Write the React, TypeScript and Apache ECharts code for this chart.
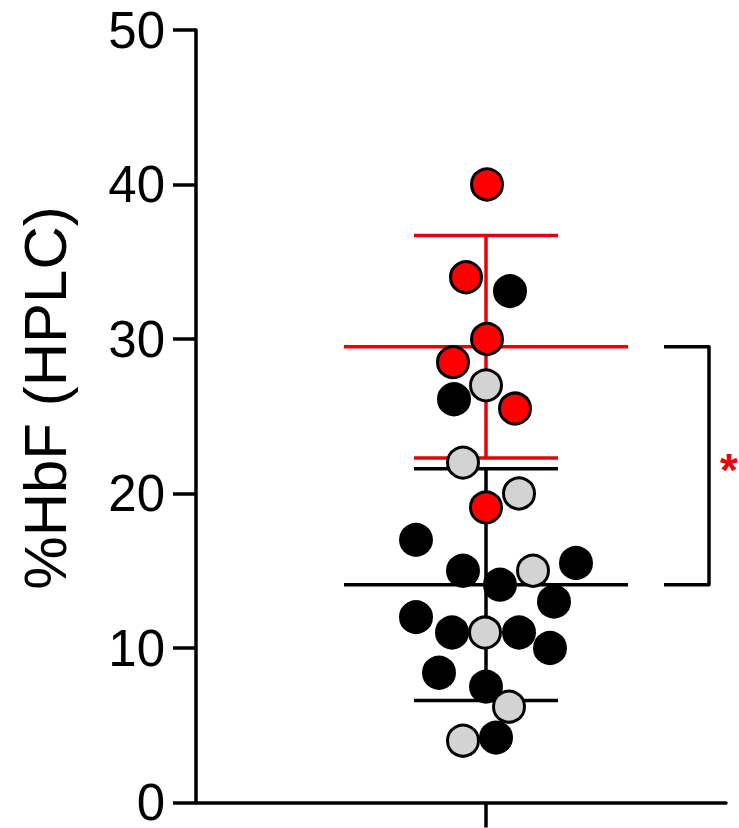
import React, { useEffect, useRef } from "react";
import * as echarts from "echarts";

// ---- data ----
const redX = [1, -20, 1, -33, 29, 0];
const redY = [40.0, 34.0, 30.0, 28.5, 25.5, 19.1];

const grayX = [0, -23, 33, 47, -1, 23, -23];
const grayY = [27.0, 22.0, 20.0, 15.0, 11.0, 6.2, 4.0];

const blackX = [24, -32, -70, -23, 90, 14, 68, -70, -34, 33, 64, -47, 0, 10];
const blackY = [33.1, 26.1, 17.0, 15.0, 15.5, 14.1, 13.0, 12.0, 11.0, 11.0, 10.0, 8.4, 7.5, 4.2];

// group summaries: [center, mean, sd]
const redSummary = [0, 29.5, 7.2];
const blackSummary = [0, 14.1, 7.5];

const yTitle = "%HbF (HPLC)";
const significance = "*";

const FONT = "'Liberation Sans', Arial, sans-serif";
const LW = 3.5;

const zip = (xs: number[], ys: number[]) => xs.map((x, i) => [x, ys[i]]);

function errorBar(color: string, summary: number[]) {
  return {
    type: "custom",
    silent: true,
    z: 2,
    data: [summary],
    renderItem: (params: any, api: any) => {
      const c = api.value(0);
      const m = api.value(1);
      const s = api.value(2);
      const meanHalf = 142;
      const capHalf = 72;
      const style = { stroke: color, lineWidth: LW };
      const seg = (x1: number, y1: number, x2: number, y2: number) => {
        const p1 = api.coord([x1, y1]);
        const p2 = api.coord([x2, y2]);
        return { type: "line", shape: { x1: p1[0], y1: p1[1], x2: p2[0], y2: p2[1] }, style };
      };
      return {
        type: "group",
        children: [
          seg(c, m - s, c, m + s),
          seg(c - meanHalf, m, c + meanHalf, m),
          seg(c - capHalf, m + s, c + capHalf, m + s),
          seg(c - capHalf, m - s, c + capHalf, m - s),
        ],
      };
    },
  };
}

function scatter(color: string, data: number[][], z: number) {
  return {
    type: "scatter",
    z,
    symbol: "circle",
    symbolSize: 31,
    data,
    itemStyle: { color, borderColor: "#000", borderWidth: 3, opacity: 1 },
  };
}

export default function App() {
  const ref = useRef<HTMLDivElement>(null);
  useEffect(() => {
    if (!ref.current) return;
    const chart = echarts.init(ref.current, null, { renderer: "svg" });
    const option: any = {
      animation: false,
      backgroundColor: "#fff",
      grid: { left: 196, right: 13, top: 30, bottom: 25, containLabel: false },
      xAxis: {
        type: "value",
        min: -290,
        max: 240,
        splitLine: { show: false },
        axisLine: { show: true, onZero: false, lineStyle: { color: "#000", width: LW } },
        axisTick: { show: true, customValues: [0], length: 25, lineStyle: { color: "#000", width: LW } },
        axisLabel: { show: false },
      },
      yAxis: {
        type: "value",
        min: 0,
        max: 50,
        interval: 10,
        splitLine: { show: false },
        axisLine: { show: true, onZero: false, lineStyle: { color: "#000", width: LW } },
        axisTick: { show: true, length: 23, lineStyle: { color: "#000", width: LW } },
        axisLabel: { color: "#000", fontSize: 51, fontFamily: FONT, margin: 31 },
      },
      graphic: [
        {
          type: "text",
          x: 45,
          y: 398,
          rotation: Math.PI / 2,
          style: {
            text: yTitle,
            fontSize: 60,
            fontFamily: FONT,
            fill: "#000",
            textAlign: "center",
            textVerticalAlign: "middle",
          },
        },
      ],
      series: [
        errorBar("#000", blackSummary),
        errorBar("#e8000b", redSummary),
        {
          type: "custom",
          silent: true,
          z: 2,
          data: [[redSummary[1], blackSummary[1]]],
          renderItem: (params: any, api: any) => {
            const top = api.value(0);
            const bot = api.value(1);
            const xStart = 178;
            const xBar = 223;
            const xStar = 243;
            const a = api.coord([xStart, top]);
            const b = api.coord([xBar, top]);
            const c = api.coord([xBar, bot]);
            const d = api.coord([xStart, bot]);
            const star = api.coord([xStar, (top + bot) / 2]);
            return {
              type: "group",
              children: [
                {
                  type: "polyline",
                  shape: { points: [a, b, c, d] },
                  style: { stroke: "#000", lineWidth: LW, fill: null, lineJoin: "round" },
                },
                {
                  type: "text",
                  x: star[0],
                  y: star[1] + 4,
                  style: {
                    text: significance,
                    fontSize: 46,
                    fontWeight: "bold",
                    fontFamily: FONT,
                    fill: "#e8000b",
                    textAlign: "center",
                    textVerticalAlign: "middle",
                  },
                },
              ],
            };
          },
        },
        scatter("#000", zip(blackX, blackY), 3),
        scatter("#d3d3d3", zip(grayX, grayY), 4),
        scatter("#ff0000", zip(redX, redY), 5),
      ],
    };
    chart.setOption(option);
    return () => chart.dispose();
  }, []);
  return (
    <div
      ref={ref}
      style={{ position: "fixed", left: 0, top: 0, width: 739, height: 828, background: "#fff" }}
    />
  );
}
